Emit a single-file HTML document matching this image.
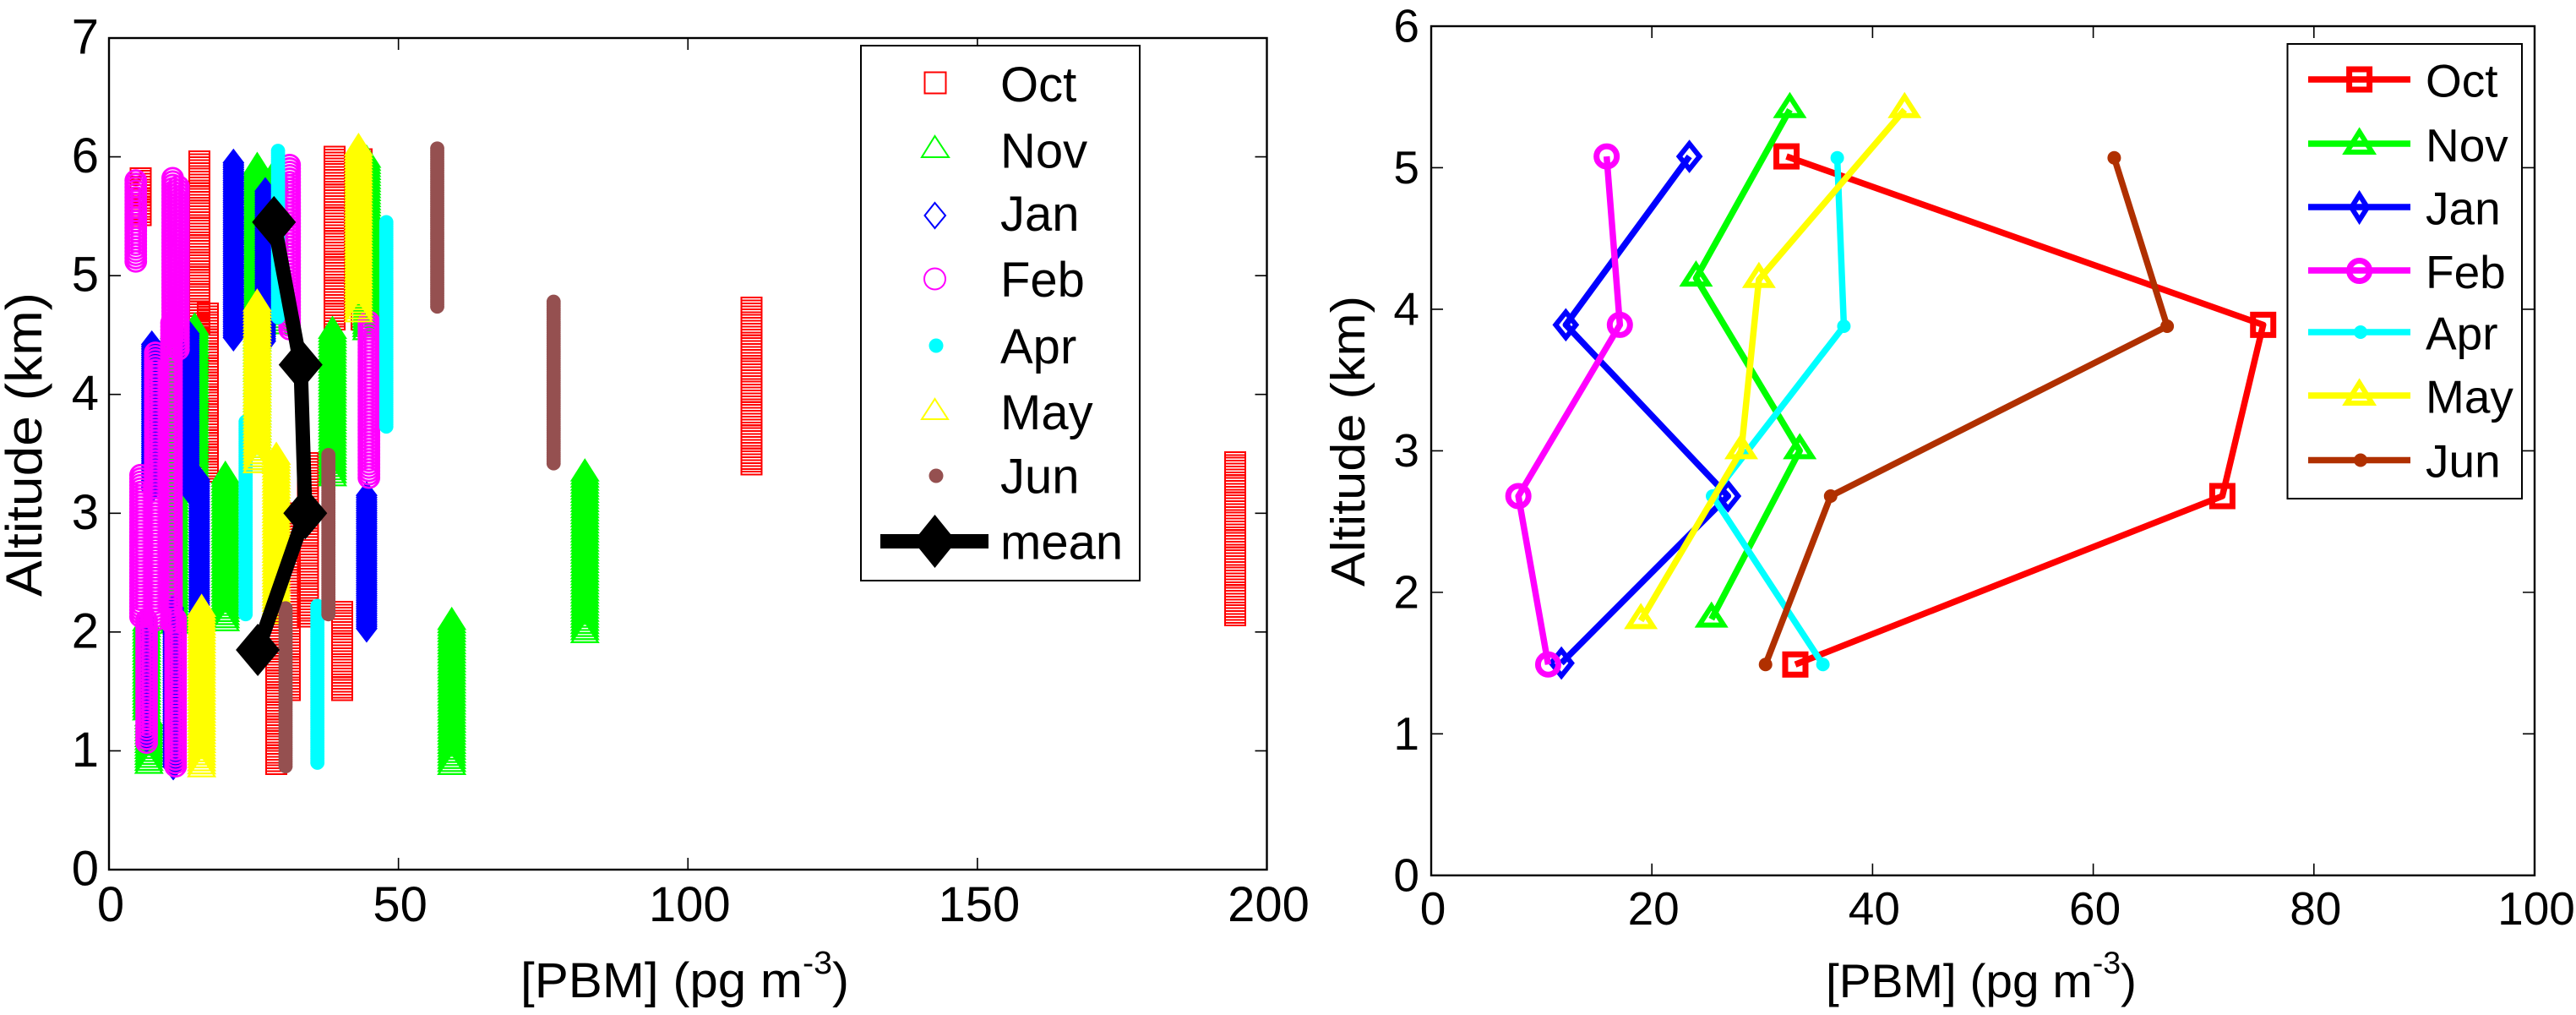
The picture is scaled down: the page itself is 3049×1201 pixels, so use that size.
<!DOCTYPE html>
<html lang="en">
<head>
<meta charset="utf-8">
<title>PBM altitude profiles</title>
<style>
html,body{margin:0;padding:0;background:#fff;}
svg{display:block;}
text{font-family:"Liberation Sans",sans-serif;fill:#000;}
</style>
</head>
<body>
<svg id="chart" xmlns="http://www.w3.org/2000/svg" width="3049" height="1201" viewBox="0 0 3049 1201">
  <rect x="0" y="0" width="3049" height="1201" fill="#fff"/>
  <g id="left-plot"></g>
  <g id="right-plot"></g>

  <text transform="translate(49,526) rotate(-90)" text-anchor="middle" font-size="60" textLength="360" lengthAdjust="spacingAndGlyphs">Altitude (km)</text>
  <text x="616" y="1180" font-size="58" textLength="389" lengthAdjust="spacingAndGlyphs">[PBM] (pg m<tspan font-size="38" dy="-28">-3</tspan><tspan dy="28">)</tspan></text>
  <text transform="translate(1615,522) rotate(-90)" text-anchor="middle" font-size="57" textLength="344" lengthAdjust="spacingAndGlyphs">Altitude (km)</text>
  <text x="2161" y="1180" font-size="56" textLength="368" lengthAdjust="spacingAndGlyphs">[PBM] (pg m<tspan font-size="37" dy="-28">-3</tspan><tspan dy="28">)</tspan></text>

  <g>
    <rect x="1019" y="54" width="330" height="633" fill="#fff" stroke="#000" stroke-width="2"/>
    <rect x="1094.5" y="85.5" width="25" height="25" fill="none" stroke="#ff0000" stroke-width="2"/>
    <polygon points="1091,186 1123,186 1106.5,161" fill="none" stroke="#00ff00" stroke-width="2"/>
    <polygon points="1106.5,240 1119,255 1106.5,270 1094.5,255" fill="none" stroke="#0000ff" stroke-width="2"/>
    <circle cx="1106.5" cy="330" r="12.5" fill="none" stroke="#ff00ff" stroke-width="2"/>
    <circle cx="1108" cy="409" r="8.5" fill="#00ffff"/>
    <polygon points="1091,496 1122,496 1106.5,472" fill="none" stroke="#ffff00" stroke-width="2"/>
    <circle cx="1108" cy="563" r="8.5" fill="#955050"/>
    <line x1="1042" y1="640.5" x2="1170" y2="640.5" stroke="#000" stroke-width="17"/>
    <polygon points="1106.5,609 1132,640.5 1106.5,672 1081,640.5" fill="#000"/>
    <g font-size="58">
      <text x="1184" y="120">Oct</text>
      <text x="1184" y="198.5">Nov</text>
      <text x="1184" y="273">Jan</text>
      <text x="1184" y="351">Feb</text>
      <text x="1184" y="430">Apr</text>
      <text x="1184" y="508">May</text>
      <text x="1184" y="583.5">Jun</text>
      <text x="1184" y="661.5">mean</text>
    </g>
  </g>

  <g>
    <rect x="2707.5" y="52" width="277.5" height="538" fill="#fff" stroke="#000" stroke-width="2"/>
    <line x1="2732" y1="94" x2="2853" y2="94" stroke="#ff0000" stroke-width="7.5"/>
    <rect x="2780.6" y="82" width="24" height="24" fill="none" stroke="#ff0000" stroke-width="7"/>
    <line x1="2732" y1="170" x2="2853" y2="170" stroke="#00ff00" stroke-width="7.5"/>
    <polygon points="2792.6,156 2807.6,180 2777.6,180" fill="none" stroke="#00ff00" stroke-width="6"/>
    <line x1="2732" y1="245" x2="2853" y2="245" stroke="#0000ff" stroke-width="7.5"/>
    <polygon points="2792.6,230.5 2802.1,245.5 2792.6,260.5 2783.1,245.5" fill="none" stroke="#0000ff" stroke-width="6"/>
    <line x1="2732" y1="320" x2="2853" y2="320" stroke="#ff00ff" stroke-width="7.5"/>
    <circle cx="2792.6" cy="320.5" r="12" fill="none" stroke="#ff00ff" stroke-width="7"/>
    <line x1="2732" y1="393" x2="2853" y2="393" stroke="#00ffff" stroke-width="7.5"/>
    <circle cx="2794" cy="393" r="8" fill="#00ffff"/>
    <line x1="2732" y1="468" x2="2853" y2="468" stroke="#ffff00" stroke-width="7.5"/>
    <polygon points="2792.6,453 2807.6,477 2777.6,477" fill="none" stroke="#ffff00" stroke-width="6"/>
    <line x1="2732" y1="544.5" x2="2853" y2="544.5" stroke="#b03000" stroke-width="7.5"/>
    <circle cx="2794" cy="544.5" r="8" fill="#b03000"/>
    <g font-size="55">
      <text x="2871" y="114.5">Oct</text>
      <text x="2871" y="191">Nov</text>
      <text x="2871" y="265.5">Jan</text>
      <text x="2871" y="341">Feb</text>
      <text x="2871" y="413.5">Apr</text>
      <text x="2871" y="488.5">May</text>
      <text x="2871" y="564.5">Jun</text>
    </g>
  </g>
</svg>

<script>
// Left panel: each entry is [PBM, top altitude km, bottom altitude km]
const octRanges = [[5.5,5.82,5.51],[15.6,5.96,4.6],[17.1,4.68,3.35],[39,6.0,4.63],[43.6,5.98,4.63],[34.4,3.42,2.13],[31.2,3.0,1.51],[28.9,2.1,0.89],[40.3,2.17,1.51],[111,4.73,3.41],[194.5,3.43,2.14]];
const novRanges = [[82.2,3.36,2.0],[59.2,2.11,0.89],[38.6,4.56,3.32],[20.1,3.34,2.1],[25.6,5.94,3.43],[28.5,5.88,4.6],[44.5,6.0,4.55],[14.8,4.59,3.4],[11.3,4.56,2.08],[6.9,1.3,0.9],[6.5,2.1,1.35]];
const janRanges = [[21.5,5.95,4.48],[27,5.71,4.45],[44.5,3.15,2.03],[13.8,4.51,3.2],[15.6,3.28,2.08],[7.4,4.42,3.2],[11.1,2.2,0.87],[6.5,2.1,1.1]];
const febRanges = [[4.63,5.8,5.12],[11,5.82,4.5],[12,5.75,4.38],[31.2,5.93,4.55],[44.9,4.61,3.3],[8,4.35,3.3],[5.45,3.32,2.13],[8,3.5,2.1],[10.8,4.6,2.08],[6.5,2.1,1.07],[11.5,2.11,0.87]];
const aprRanges = [[29.2,6.05,4.65],[47.9,5.45,3.73],[23.6,3.77,2.15],[36,2.22,0.9]];
const mayRanges = [[43.1,6.1,4.7],[25.6,4.79,3.43],[28.9,3.5,2.16],[16,2.22,0.87]];
const junRanges = [[56.7,6.07,4.74],[76.8,4.78,3.42],[37.9,3.49,2.15],[30.5,2.2,0.87]];
const meanPbm = [28.5,33.1,33.9,25.7];
const meanAltitude = [5.45,4.25,3.0,1.85];

// Right panel: monthly profile values
const octPbm = [32.2,75.4,71.7,33];
const octAltitude = [5.08,3.89,2.68,1.49];
const novPbm = [32.5,24,33.4,25.4];
const novAltitude = [5.41,4.22,3.0,1.81];
const janPbm = [23.4,12.2,26.9,11.8];
const janAltitude = [5.08,3.89,2.68,1.5];
const febPbm = [15.9,17.1,7.9,10.6];
const febAltitude = [5.08,3.89,2.68,1.49];
const aprPbm = [36.8,37.4,25.5,35.5];
const aprAltitude = [5.07,3.88,2.68,1.49];
const mayPbm = [42.9,29.7,28.1,19];
const mayAltitude = [5.41,4.21,3.0,1.8];
const junPbm = [61.9,66.7,36.2,30.3];
const junAltitude = [5.07,3.88,2.68,1.49];

// Tick labels
const leftXTicks = [0,50,100,150,200];
const leftYTicks = [0,1,2,3,4,5,6,7];
const rightXTicks = [0,20,40,60,80,100];
const rightYTicks = [0,1,2,3,4,5,6];

const NS = 'http://www.w3.org/2000/svg';
function el(parent, tag, attrs) {
  const e = document.createElementNS(NS, tag);
  for (const k in attrs) e.setAttribute(k, attrs[k]);
  parent.appendChild(e);
  return e;
}
function linear(d0, d1, r0, r1) {
  return v => r0 + (v - d0) * (r1 - r0) / (d1 - d0);
}

const leftBox = {x0:129, x1:1499.5, y0:1029, y1:45, font:58, xBase:1090, yRight:117};
const rightBox = {x0:1694, x1:3000, y0:1035.8, y1:31, font:55, xBase:1094, yRight:1680};
const leftX = linear(0,200,leftBox.x0,leftBox.x1);
const leftY = linear(0,7,leftBox.y0,leftBox.y1);
const rightX = linear(0,100,rightBox.x0,rightBox.x1);
const rightY = linear(0,6,rightBox.y0,rightBox.y1);

function drawAxes(g, box, xs, ys, xTicks, yTicks, prefix) {
  const frame = el(g,'rect',{x:box.x0,y:box.y1,width:box.x1-box.x0,height:box.y0-box.y1,fill:'none',stroke:'#000','stroke-width':2.4});
  
  
  const len = 14;
  xTicks.forEach(t => {
    const x = xs(t);
    const mark = el(g,'path',{d:`M${x} ${box.y0}v${-len}M${x} ${box.y1}v${len}`,stroke:'#000','stroke-width':1.6,fill:'none'});
    
    
    const label = el(g,'text',{x:x+2,y:box.xBase,'text-anchor':'middle','font-size':box.font});
    label.textContent = t;
    
    
  });
  yTicks.forEach(t => {
    const y = ys(t);
    const mark = el(g,'path',{d:`M${box.x0} ${y}h${len}M${box.x1} ${y}h${-len}`,stroke:'#000','stroke-width':1.6,fill:'none'});
    
    
    const label = el(g,'text',{x:box.yRight,y:y+18.5,'text-anchor':'end','font-size':box.font});
    label.textContent = t;
    
    
  });
}

const stackShapes = {
  square:(x,y)=>`M${x-12} ${y-12}h24v24h-24z`,
  triangle:(x,y)=>`M${x} ${y-12.5}L${x+15.5} ${y+12}H${x-15.5}z`,
  diamond:(x,y)=>`M${x} ${y-15}L${x+11.5} ${y}L${x} ${y+15}L${x-11.5} ${y}z`,
  circle:(x,y)=>`M${x-12} ${y}a12 12 0 1 0 24 0a12 12 0 1 0 -24 0z`,
  dot:(x,y)=>`M${x-8.4} ${y}a8.4 8.4 0 1 0 16.8 0a8.4 8.4 0 1 0 -16.8 0z`
};
const stackSpacing = {square:3.43, triangle:3.6, diamond:2.6, circle:4, dot:2.6};
const stackStroke = {square:2, triangle:2.2, diamond:2.2, circle:2.8, dot:0};

function drawRanges(g, ranges, shape, color, name) {
  const group = el(g,'g',{});
  
  
  const filled = shape === 'dot';
  ranges.forEach(r => {
    const cx = leftX(r[0]);
    const yTop = leftY(r[1]);
    const yBottom = leftY(r[2]);
    const count = Math.max(1, Math.round((yBottom - yTop) / stackSpacing[shape]));
    let d = '';
    for (let i = 0; i <= count; i++) d += stackShapes[shape](cx, yTop + (yBottom - yTop) * i / count);
    const bar = el(group,'path',{
      d:d,
      fill:filled ? color : 'none',
      stroke:filled ? 'none' : color,
      'stroke-width':stackStroke[shape],
      'shape-rendering':shape === 'square' ? 'crispEdges' : 'auto'
    });
    
    
  });
}

function drawLeft() {
  const g = document.getElementById('left-plot');
  drawAxes(g,leftBox,leftX,leftY,leftXTicks,leftYTicks,'left');
  drawRanges(g,octRanges,'square','#ff0000','oct');
  drawRanges(g,novRanges,'triangle','#00ff00','nov');
  drawRanges(g,janRanges,'diamond','#0000ff','jan');
  drawRanges(g,febRanges,'circle','#ff00ff','feb');
  drawRanges(g,aprRanges,'dot','#00ffff','apr');
  drawRanges(g,mayRanges,'triangle','#ffff00','may');
  drawRanges(g,junRanges,'dot','#955050','jun');
  const pts = meanPbm.map((v,i)=>leftX(v)+','+leftY(meanAltitude[i])).join(' ');
  const meanLine = el(g,'polyline',{points:pts,fill:'none',stroke:'#000','stroke-width':17,'stroke-linejoin':'round'});
  
  
  meanPbm.forEach((v,i)=>{
    const x = leftX(v), y = leftY(meanAltitude[i]);
    const marker = el(g,'polygon',{points:`${x},${y-31} ${x+26},${y} ${x},${y+31} ${x-26},${y}`,fill:'#000'});
    
    
  });
}

const profileMarkers = {
  square:(g,x,y,c)=>el(g,'rect',{x:x-12,y:y-12,width:24,height:24,fill:'none',stroke:c,'stroke-width':7}),
  triangle:(g,x,y,c)=>el(g,'polygon',{points:`${x},${y-15.5} ${x+14.5},${y+7} ${x-14.5},${y+7}`,fill:'none',stroke:c,'stroke-width':6}),
  diamond:(g,x,y,c)=>el(g,'polygon',{points:`${x},${y-15} ${x+12},${y} ${x},${y+15} ${x-12},${y}`,fill:'none',stroke:c,'stroke-width':6}),
  circle:(g,x,y,c)=>el(g,'circle',{cx:x,cy:y,r:12,fill:'none',stroke:c,'stroke-width':7}),
  dot:(g,x,y,c)=>el(g,'circle',{cx:x,cy:y,r:8,fill:c})
};

function drawProfile(g, pbm, altitude, shape, color, name) {
  const group = el(g,'g',{});
  
  
  const pts = pbm.map((v,i)=>rightX(v)+','+rightY(altitude[i])).join(' ');
  const line = el(group,'polyline',{points:pts,fill:'none',stroke:color,'stroke-width':7.5,'stroke-linejoin':'round'});
  
  
  pbm.forEach((v,i)=>{
    const marker = profileMarkers[shape](group,rightX(v),rightY(altitude[i]),color);
    
    
  });
}

function drawRight() {
  const g = document.getElementById('right-plot');
  drawAxes(g,rightBox,rightX,rightY,rightXTicks,rightYTicks,'right');
  drawProfile(g,octPbm,octAltitude,'square','#ff0000','oct');
  drawProfile(g,novPbm,novAltitude,'triangle','#00ff00','nov');
  drawProfile(g,janPbm,janAltitude,'diamond','#0000ff','jan');
  drawProfile(g,febPbm,febAltitude,'circle','#ff00ff','feb');
  drawProfile(g,aprPbm,aprAltitude,'dot','#00ffff','apr');
  drawProfile(g,mayPbm,mayAltitude,'triangle','#ffff00','may');
  drawProfile(g,junPbm,junAltitude,'dot','#b03000','jun');
}

drawLeft();
drawRight();
</script>
</body>
</html>
